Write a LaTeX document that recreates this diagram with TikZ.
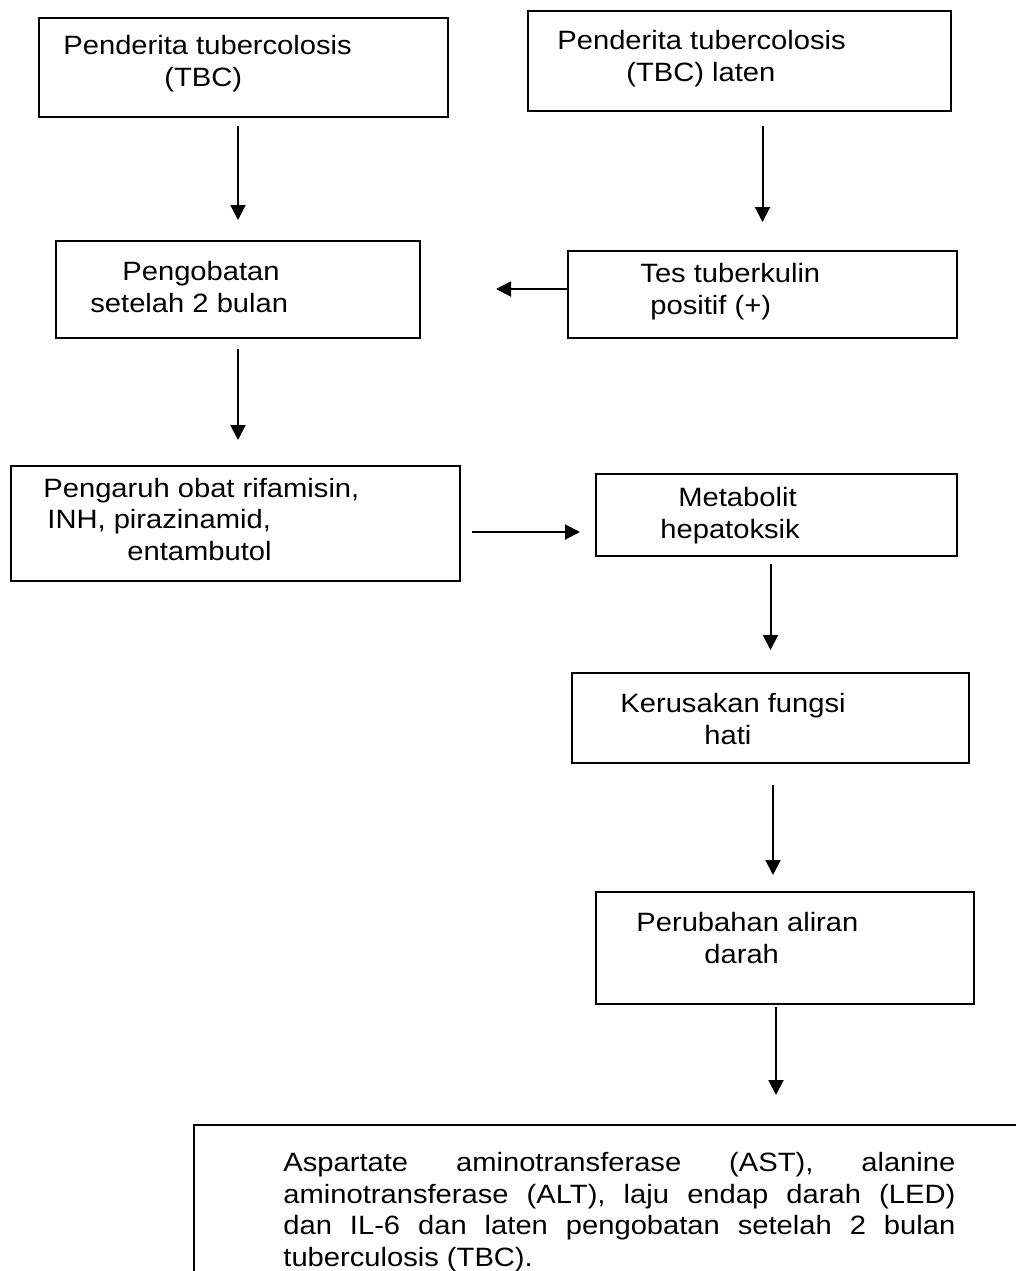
\documentclass[tikz,border=0pt]{standalone}
\usepackage{fontspec}
\setmainfont{Liberation Sans}[FakeStretch=1.1]
\usetikzlibrary{arrows.meta}

\newdimen\pxu \pxu=0.5pt
\tikzset{
  box/.style={draw, line width=1pt, anchor=north west, inner sep=0pt},
  txt/.style={anchor=base west, align=left, inner sep=0pt, font=\fontsize{13.25}{15.75}\selectfont},
  arr/.style={-{Triangle[length=7.5pt,width=7.5pt]}, line width=1pt}
}

\begin{document}
\begin{tikzpicture}[x=0.5pt,y=-0.5pt]
\useasboundingbox (0,0) rectangle (1016,1271);
\clip (0,0) rectangle (1016,1271);

% TBC
\node[box, minimum width=409\pxu, minimum height=99\pxu] (tbc) at (38,17) {};
\node[txt] (tbc-t) at (63,86) {Penderita tubercolosis\\\hspace*{50.5pt}(TBC)};

% TBC LATEN
\node[box, minimum width=423\pxu, minimum height=100\pxu] (laten) at (527,10) {};
\node[txt] (laten-t) at (557,81) {Penderita tubercolosis\\\hspace*{34.5pt}(TBC) laten};

% PENGOBATAN
\node[box, minimum width=364\pxu, minimum height=97\pxu] (obat) at (55,240) {};
\node[txt] (obat-t) at (90,312) {\hspace*{16pt}Pengobatan\\setelah 2 bulan};

% TES TUBERKULIN
\node[box, minimum width=389\pxu, minimum height=87\pxu] (tes) at (567,250) {};
\node[txt] (tes-t) at (640,314) {Tes tuberkulin\\\hspace*{5pt}positif (+)};

% PENGARUH OBAT
\node[box, minimum width=449\pxu, minimum height=115\pxu] (pengaruh) at (10,465) {};
\node[txt] (pengaruh-t) at (43,560) {Pengaruh obat rifamisin,\\\hspace*{2pt}INH, pirazinamid,\\\hspace*{42pt}entambutol};

% METABOLIT
\node[box, minimum width=361\pxu, minimum height=82\pxu] (meta) at (595,473) {};
\node[txt] (meta-t) at (660,538) {\hspace*{9pt}Metabolit\\hepatoksik};

% KERUSAKAN
\node[box, minimum width=397\pxu, minimum height=90\pxu] (hati) at (571,672) {};
\node[txt] (hati-t) at (620,744) {Kerusakan fungsi\\\hspace*{42pt}hati};

% PERUBAHAN
\node[box, minimum width=378\pxu, minimum height=112\pxu] (darah) at (595,891) {};
\node[txt] (darah-t) at (636,963) {Perubahan aliran\\\hspace*{34pt}darah};

% HASIL
\node[box, minimum width=900\pxu, minimum height=300\pxu] (hasil) at (193,1124) {};
\node[txt] (hasil-t) at (283,1266) {%
  \makebox[336pt][s]{Aspartate aminotransferase (AST), alanine}\\
  \makebox[336pt][s]{aminotransferase (ALT), laju endap darah (LED)}\\
  \makebox[336pt][s]{dan IL-6 dan laten pengobatan setelah 2 bulan}\\
  tuberculosis (TBC).};

% PANAH
\draw[arr, shorten <=8\pxu, shorten >=20\pxu] (tbc.south -| obat.north) -- (obat.north);
\draw[arr, shorten <=14\pxu, shorten >=28\pxu] (laten.south -| tes.north) -- (tes.north);
\draw[arr, shorten >=75\pxu] ([yshift=2.75pt]tes.west) -- ([yshift=2.75pt]tes.west -| obat.east);
\draw[arr, shorten <=10\pxu, shorten >=25\pxu] (obat.south) -- (obat.south |- pengaruh.north);
\draw[arr, shorten <=11\pxu, shorten >=15\pxu] ([yshift=-4.25pt]pengaruh.east) -- ([yshift=-4.25pt]pengaruh.east -| meta.west);
\draw[arr, shorten <=7\pxu, shorten >=22\pxu] (meta.south -| hati.north) -- (hati.north);
\draw[arr, shorten <=21\pxu, shorten >=16\pxu] ([xshift=1.25pt]hati.south) -- ([xshift=1.25pt]hati.south |- darah.north);
\draw[arr, shorten <=2\pxu, shorten >=29\pxu] ([xshift=-4.5pt]darah.south) -- ([xshift=-4.5pt]darah.south |- hasil.north);

\end{tikzpicture}
\end{document}
